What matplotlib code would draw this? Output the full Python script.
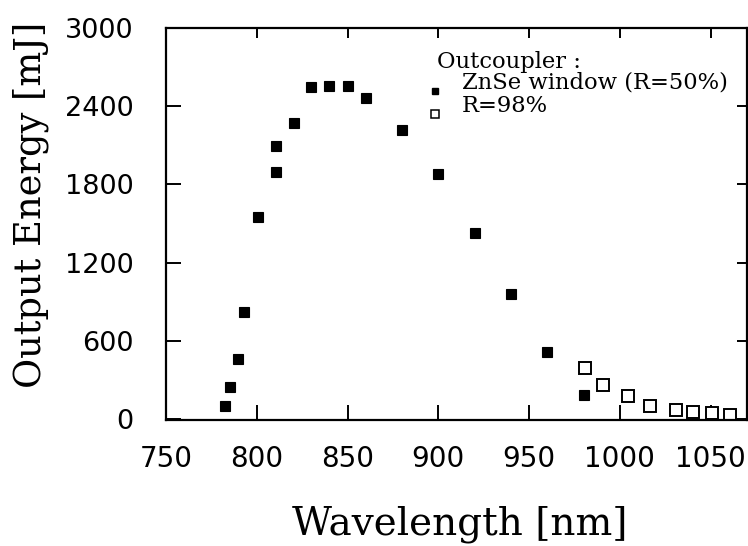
import matplotlib
matplotlib.use("Agg")
import matplotlib.pyplot as plt

# Data
filled_x = [782.5, 785.5, 789.5, 793, 800.5, 810.5, 810.5, 820.5, 830, 840, 850,
            860, 880, 900, 920, 940, 960, 980]
filled_y = [102, 248, 458, 823, 1550, 1893, 2095, 2274, 2550, 2558, 2558,
            2461, 2218, 1878, 1425, 959, 517, 184]
open_x = [980.5, 990.5, 1004.5, 1016.5, 1031, 1040.5, 1050.5, 1060.5]
open_y = [394, 261, 179, 100, 69, 56, 44, 31]

x_ticks = [750, 800, 850, 900, 950, 1000, 1050]
y_ticks = [0, 600, 1200, 1800, 2400, 3000]

SERIF = ["DejaVu Serif", "DejaVu Sans"]
plt.rcParams['font.family'] = SERIF

W, H = 748, 546
fig = plt.figure(figsize=(W/100, H/100), dpi=100)
ax = fig.add_axes([166/W, 1-420/H, (747-166)/W, (420-28)/H])

ax.plot(open_x, open_y, linestyle='none', marker='s', markersize=8.2,
        markerfacecolor='white', markeredgecolor='black', markeredgewidth=1.4)
ax.plot(filled_x, filled_y, linestyle='none', marker='s', markersize=7.6,
        markerfacecolor='black', markeredgecolor='black', markeredgewidth=0.8)

ax.set_xlim(750, 1070)
ax.set_ylim(-8, 3000)
ax.set_xticks(x_ticks, [str(v) for v in x_ticks])
ax.set_yticks(y_ticks, [str(v) for v in y_ticks])
ax.tick_params(axis='x', which='major', direction='in', length=11, width=1.4,
               top=True, pad=18, labelsize=20, labelfontfamily='DejaVu Sans')
ax.tick_params(axis='y', which='major', direction='in', length=11, width=1.4,
               right=True, pad=23.5, labelsize=19.5, labelfontfamily='DejaVu Sans')
for t in ax.xaxis.get_major_ticks():
    t.tick2line.set_markersize(7)
for t in ax.yaxis.get_major_ticks():
    t.tick2line.set_markersize(7)

for s in ax.spines.values():
    s.set_linewidth(1.6)

fig.text(31/W, 1-205/H, "Output Energy [mJ]", rotation=90, ha='center',
         va='center', fontsize=26.5)
fig.text(460/W, 1-524/H, "Wavelength [nm]", ha='center', va='center',
         fontsize=28)

# Legend
ax.text(0.4667, 0.897, "Outcoupler :", transform=ax.transAxes, fontsize=16.3,
        ha='left', va='baseline')
ax.text(0.5097, 0.846, "ZnSe window (R=50%)", transform=ax.transAxes, fontsize=16.3,
        ha='left', va='baseline')
ax.text(0.5097, 0.7865, "R=98%", transform=ax.transAxes, fontsize=16.3,
        ha='left', va='baseline')
ax.plot([0.4632], [0.839], transform=ax.transAxes, marker='s', markersize=5,
        color='black', linestyle='none')
ax.plot([0.4632], [0.7806], transform=ax.transAxes, marker='s', markersize=5.5,
        markerfacecolor='white', markeredgecolor='black', markeredgewidth=1.1,
        linestyle='none')

fig.savefig("out.png", dpi=100)
